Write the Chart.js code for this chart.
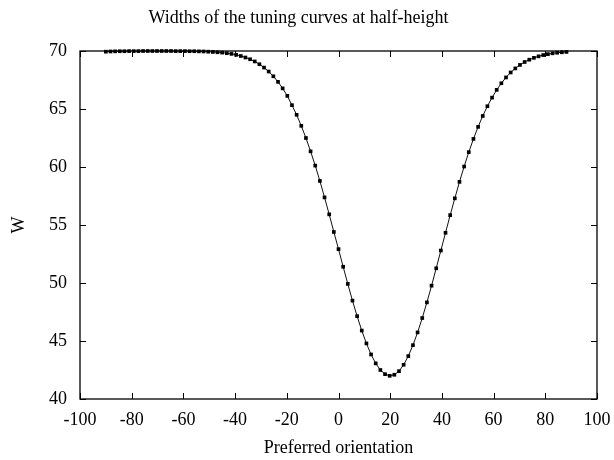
<!DOCTYPE html>
<html>
<head>
<meta charset="utf-8">
<script src="https://cdn.jsdelivr.net/npm/chart.js@4.4.1/dist/chart.umd.min.js"></script>
<style>
  html, body { margin: 0; padding: 0; background: #fff; }
  #wrap { width: 614px; height: 460px; position: relative; }
</style>
</head>
<body>
<div id="wrap"><canvas id="chart"></canvas></div>
<script>
// Orientaciones preferidas (grados), paso 1.8
const orientations = [
  -90, -88.2, -86.4, -84.6, -82.8, -81, -79.2, -77.4, -75.6, -73.8,
  -72, -70.2, -68.4, -66.6, -64.8, -63, -61.2, -59.4, -57.6, -55.8,
  -54, -52.2, -50.4, -48.6, -46.8, -45, -43.2, -41.4, -39.6, -37.8,
  -36, -34.2, -32.4, -30.6, -28.8, -27, -25.2, -23.4, -21.6, -19.8,
  -18, -16.2, -14.4, -12.6, -10.8, -9, -7.2, -5.4, -3.6, -1.8,
  0, 1.8, 3.6, 5.4, 7.2, 9, 10.8, 12.6, 14.4, 16.2,
  18, 19.8, 21.6, 23.4, 25.2, 27, 28.8, 30.6, 32.4, 34.2,
  36, 37.8, 39.6, 41.4, 43.2, 45, 46.8, 48.6, 50.4, 52.2,
  54, 55.8, 57.6, 59.4, 61.2, 63, 64.8, 66.6, 68.4, 70.2,
  72, 73.8, 75.6, 77.4, 79.2, 81, 82.8, 84.6, 86.4, 88.2,
];

// Anchura W de cada curva a media altura
const widths = [
  69.94, 69.96, 69.97, 69.98, 69.98, 69.99, 69.99, 69.99, 70.00, 70.00,
  70.00, 70.00, 70.00, 70.00, 70.00, 69.99, 69.99, 69.99, 69.98, 69.98,
  69.97, 69.96, 69.94, 69.92, 69.89, 69.86, 69.81, 69.75, 69.67, 69.57,
  69.44, 69.29, 69.10, 68.86, 68.57, 68.23, 67.82, 67.34, 66.78, 66.13,
  65.33, 64.50, 63.55, 62.50, 61.35, 60.12, 58.80, 57.38, 55.92, 54.40,
  52.92, 51.40, 49.92, 48.48, 47.14, 45.90, 44.79, 43.84, 43.07, 42.50,
  42.14, 42.00, 42.09, 42.40, 42.95, 43.70, 44.64, 45.74, 46.98, 48.33,
  49.77, 51.27, 52.80, 54.33, 55.85, 57.30, 58.72, 60.04, 61.28, 62.42,
  63.46, 64.40, 65.24, 65.98, 66.65, 67.22, 67.72, 68.15, 68.50, 68.80,
  69.05, 69.25, 69.41, 69.54, 69.65, 69.73, 69.80, 69.85, 69.89, 69.92,
];

const X_MIN = -100, X_MAX = 100, X_STEP = 20;
const Y_MIN = 40, Y_MAX = 70, Y_STEP = 5;

const FONT = { family: '"Liberation Serif", "Times New Roman", serif', size: 18 };

// Marco tipo gnuplot: borde en los cuatro lados y marcas hacia dentro (con espejo)
const framePlugin = {
  id: 'frame',
  beforeDatasetsDraw(chart) {
    const { ctx, chartArea: a, scales } = chart;
    const TL = 6;
    ctx.save();
    ctx.strokeStyle = '#000';
    ctx.lineWidth = 1;
    ctx.beginPath();
    scales.x.ticks.forEach((t) => {
      const px = Math.round(scales.x.getPixelForValue(t.value)) + 0.5;
      ctx.moveTo(px, a.bottom); ctx.lineTo(px, a.bottom - TL);
      ctx.moveTo(px, a.top); ctx.lineTo(px, a.top + TL);
    });
    scales.y.ticks.forEach((t) => {
      const py = Math.round(scales.y.getPixelForValue(t.value)) + 0.5;
      ctx.moveTo(a.left, py); ctx.lineTo(a.left + TL, py);
      ctx.moveTo(a.right, py); ctx.lineTo(a.right - TL, py);
    });
    ctx.stroke();
    ctx.lineWidth = 1.3;
    ctx.strokeRect(a.left, a.top, a.right - a.left, a.bottom - a.top);
    ctx.restore();
  },
};

new Chart(document.getElementById('chart'), {
  type: 'line',
  data: {
    datasets: [{
      data: orientations.map((x, i) => ({ x, y: widths[i] })),
      borderColor: '#111',
      borderWidth: 1,
      backgroundColor: '#000',
      pointStyle: 'rect',
      pointRadius: 2.6,
      pointBorderWidth: 0,
      pointBackgroundColor: '#000',
      tension: 0,
      clip: false,
    }],
  },
  options: {
    responsive: true,
    maintainAspectRatio: false,
    animation: false,
    layout: { padding: { left: 0, right: 17, top: 0, bottom: 0 } },
    plugins: {
      legend: { display: false },
      tooltip: { enabled: false },
      title: {
        display: true,
        text: 'Widths of the tuning curves at half-height',
        color: '#000',
        font: { ...FONT, weight: 'normal' },
        padding: { top: 7, bottom: 22.4 },
      },
    },
    scales: {
      x: {
        type: 'linear',
        min: X_MIN,
        max: X_MAX,
        afterFit: (s) => { s.height = 61; s.paddingLeft = 0; s.paddingRight = 0; },
        grid: { display: false, drawTicks: false },
        border: { display: false },
        ticks: { stepSize: X_STEP, color: '#000', font: FONT, padding: 10, maxRotation: 0 },
        title: { display: true, text: 'Preferred orientation', color: '#000', font: FONT, padding: { top: 0, bottom: 1 } },
      },
      y: {
        min: Y_MIN,
        max: Y_MAX,
        afterFit: (s) => { s.width = 80; },
        grid: { display: false, drawTicks: false },
        border: { display: false },
        ticks: { stepSize: Y_STEP, color: '#000', font: FONT, padding: 13 },
        title: { display: true, text: 'W', color: '#000', font: FONT, padding: { top: 8, bottom: 0 } },
      },
    },
  },
  plugins: [framePlugin],
});
</script>
</body>
</html>
